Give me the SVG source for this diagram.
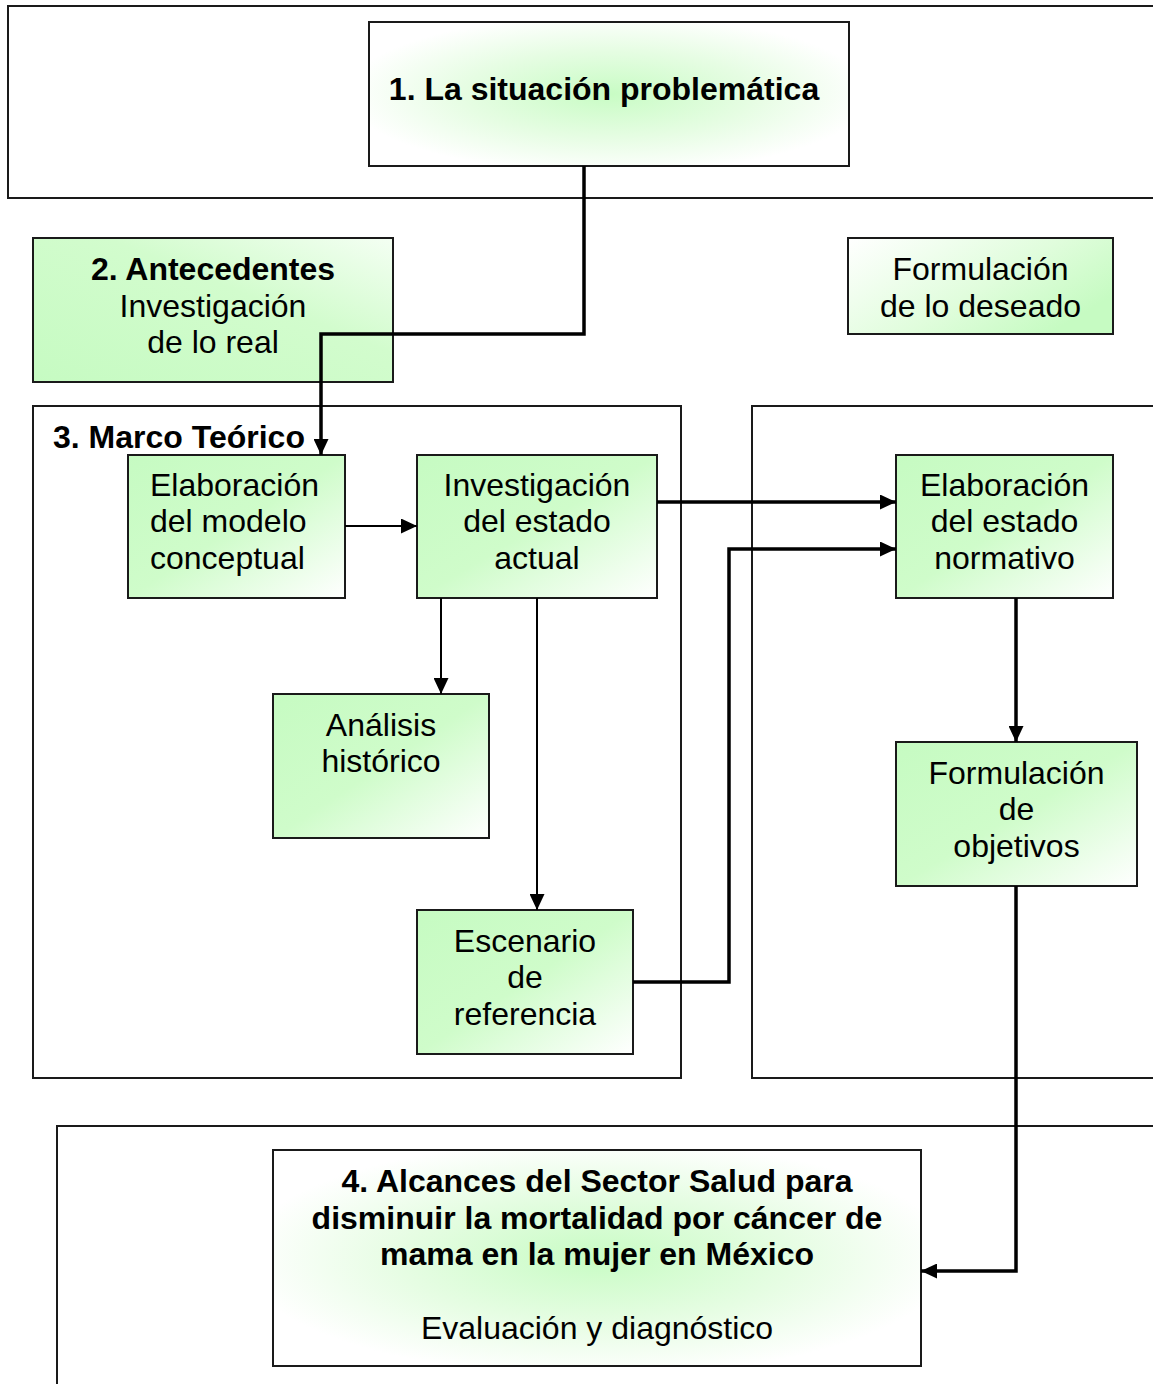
<svg xmlns="http://www.w3.org/2000/svg" width="1153" height="1384" viewBox="0 0 1153 1384">
  <style>
    .frame { fill: #ffffff; stroke: #1a1a1a; stroke-width: 2; }
    .box { stroke: #1a1a1a; stroke-width: 2; }
    .t { font-family: "Liberation Sans", Arial, sans-serif; font-size: 32px; fill: #000; text-anchor: middle; }
    .b { font-weight: bold; }
    .thick { fill: none; stroke: #000; stroke-width: 3.5; stroke-linejoin: miter; }
    .thin { fill: none; stroke: #000; stroke-width: 2; }
  </style>
  <defs>
    <!-- soft centre glow for the big heading boxes -->
    <radialGradient id="glow" cx="50%" cy="50%" r="55%">
      <stop offset="0" stop-color="#c8fcc4"/>
      <stop offset="0.55" stop-color="#e6fde3"/>
      <stop offset="1" stop-color="#ffffff"/>
    </radialGradient>
    <!-- green top-left fading to white bottom-right -->
    <linearGradient id="diag" x1="0" y1="0" x2="1" y2="1">
      <stop offset="0" stop-color="#c6fbc2"/>
      <stop offset="0.5" stop-color="#cffcca"/>
      <stop offset="1" stop-color="#ffffff"/>
    </linearGradient>
    <!-- green bottom-left, lighter top-right -->
    <linearGradient id="diagUp" x1="0" y1="1" x2="1" y2="0">
      <stop offset="0" stop-color="#c6fbc2"/>
      <stop offset="0.6" stop-color="#d2fccd"/>
      <stop offset="1" stop-color="#f4fff3"/>
    </linearGradient>
    <!-- white top-left, green towards the right -->
    <linearGradient id="diagRev" x1="0" y1="0" x2="1" y2="0.6">
      <stop offset="0" stop-color="#ffffff"/>
      <stop offset="0.6" stop-color="#e0fddc"/>
      <stop offset="1" stop-color="#c6fbc2"/>
    </linearGradient>
    <marker id="arrow" markerUnits="userSpaceOnUse" markerWidth="16" markerHeight="15" refX="16" refY="7.5" orient="auto">
      <path d="M0,0 L16,7.5 L0,15 z" fill="#000"/>
    </marker>
  </defs>

  <!-- background panels -->
  <g id="panels">
    <rect class="frame" x="8" y="6" width="1160" height="192"/>
    <rect class="frame" x="33" y="406" width="648" height="672"/>
    <rect class="frame" x="752" y="406" width="420" height="672"/>
    <rect class="frame" x="57" y="1126" width="1110" height="300"/>
  </g>

  <g id="situacion">
    <rect class="box" x="369" y="22" width="480" height="144" fill="url(#glow)"/>
    <text class="t b" x="604" y="100">1. La situación problemática</text>
  </g>

  <g id="antecedentes">
    <rect class="box" x="33" y="238" width="360" height="144" fill="url(#diagUp)"/>
    <text class="t b" x="213" y="280">2. Antecedentes</text>
    <text class="t" x="213" y="317">Investigación</text>
    <text class="t" x="213" y="353">de lo real</text>
  </g>

  <g id="deseado">
    <rect class="box" x="848" y="238" width="265" height="96" fill="url(#diagRev)"/>
    <text class="t" x="980.5" y="280">Formulación</text>
    <text class="t" x="980.5" y="317">de lo deseado</text>
  </g>

  <g id="marco-label">
    <text class="t b" x="53" y="448" style="text-anchor:start">3. Marco Teórico</text>
  </g>

  <g id="modelo">
    <rect class="box" x="128" y="455" width="217" height="143" fill="url(#diag)"/>
    <text class="t" x="150" y="496" style="text-anchor:start">Elaboración</text>
    <text class="t" x="150" y="532" style="text-anchor:start">del modelo</text>
    <text class="t" x="150" y="569" style="text-anchor:start">conceptual</text>
  </g>

  <g id="actual">
    <rect class="box" x="417" y="455" width="240" height="143" fill="url(#diag)"/>
    <text class="t" x="537" y="496">Investigación</text>
    <text class="t" x="537" y="532">del estado</text>
    <text class="t" x="537" y="569">actual</text>
  </g>

  <g id="normativo">
    <rect class="box" x="896" y="455" width="217" height="143" fill="url(#diag)"/>
    <text class="t" x="1004.5" y="496">Elaboración</text>
    <text class="t" x="1004.5" y="532">del estado</text>
    <text class="t" x="1004.5" y="569">normativo</text>
  </g>

  <g id="historico">
    <rect class="box" x="273" y="694" width="216" height="144" fill="url(#diag)"/>
    <text class="t" x="381" y="736">Análisis</text>
    <text class="t" x="381" y="772">histórico</text>
  </g>

  <g id="objetivos">
    <rect class="box" x="896" y="742" width="241" height="144" fill="url(#diag)"/>
    <text class="t" x="1016.5" y="784">Formulación</text>
    <text class="t" x="1016.5" y="820">de</text>
    <text class="t" x="1016.5" y="857">objetivos</text>
  </g>

  <g id="escenario">
    <rect class="box" x="417" y="910" width="216" height="144" fill="url(#diag)"/>
    <text class="t" x="525" y="952">Escenario</text>
    <text class="t" x="525" y="988">de</text>
    <text class="t" x="525" y="1025">referencia</text>
  </g>

  <g id="alcances">
    <rect class="box" x="273" y="1150" width="648" height="216" fill="url(#glow)"/>
    <text class="t b" x="597" y="1192">4. Alcances del Sector Salud para</text>
    <text class="t b" x="597" y="1229">disminuir la mortalidad por cáncer de</text>
    <text class="t b" x="597" y="1265">mama en la mujer en México</text>
    <text class="t" x="597" y="1339">Evaluación y diagnóstico</text>
  </g>

  <g id="connectors">
    <path class="thick" d="M584,166 V334 H321 V455" marker-end="url(#arrow)"/>
    <path class="thin" d="M345,526 H417" marker-end="url(#arrow)"/>
    <path class="thick" d="M657,502 H896" marker-end="url(#arrow)"/>
    <path class="thin" d="M441,598 V694" marker-end="url(#arrow)"/>
    <path class="thin" d="M537,598 V910" marker-end="url(#arrow)"/>
    <path class="thick" d="M633,982 H729 V549 H896" marker-end="url(#arrow)"/>
    <path class="thick" d="M1016,598 V742" marker-end="url(#arrow)"/>
    <path class="thick" d="M1016,886 V1271 H921" marker-end="url(#arrow)"/>
  </g>
</svg>
